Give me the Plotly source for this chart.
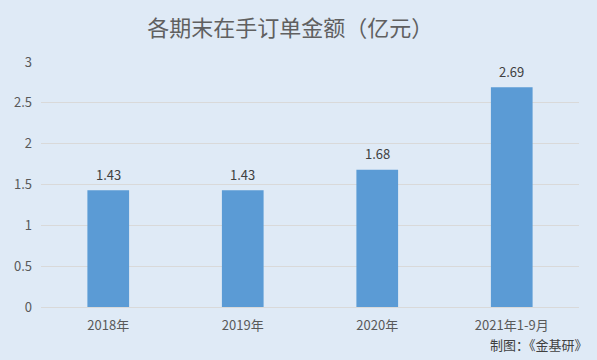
import plotly.graph_objects as go

categories = ["2018年", "2019年", "2020年", "2021年1-9月"]
values = [1.43, 1.43, 1.68, 2.69]
labels = ["1.43", "1.43", "1.68", "2.69"]
y_ticks = [0, 0.5, 1, 1.5, 2, 2.5, 3]
y_tick_text = ["0", "0.5", "1", "1.5", "2", "2.5", "3"]

BG = "#dfeaf6"
FONT = "Noto Sans CJK SC, Microsoft YaHei, sans-serif"

fig = go.Figure()
fig.add_trace(go.Bar(
    x=categories, y=values,
    marker=dict(color="#5b9bd5", line=dict(width=0)),
    hoverinfo="x+y",
))

annotations = [
    dict(x=c, y=v, text=t, xref="x", yref="y", showarrow=False,
         yanchor="middle", yshift=16,
         font=dict(size=13, color="#404040", family=FONT))
    for c, v, t in zip(categories, values, labels)
]
annotations.append(dict(text="制图：《金基研》", xref="paper", yref="paper",
                        x=1.02, y=-0.155, xanchor="right", yanchor="middle",
                        showarrow=False,
                        font=dict(size=13, color="#404040", family=FONT)))

fig.update_layout(
    width=597, height=360,
    paper_bgcolor=BG, plot_bgcolor=BG,
    margin=dict(l=41, r=18, t=62, b=53),
    bargap=0.69,
    showlegend=False,
    font=dict(family=FONT, color="#595959", size=13),
    title=dict(text="各期末在手订单金额（亿元）", x=0.486, xanchor="center",
               y=0.922, yanchor="middle",
               font=dict(size=22, color="#606060", family=FONT)),
    xaxis=dict(showgrid=False, showline=True, linecolor="#d9d9d9", linewidth=1,
               ticks="", ticklabelstandoff=6,
               tickfont=dict(size=13, color="#595959")),
    yaxis=dict(range=[0, 3], tickvals=y_ticks, ticktext=y_tick_text,
               showgrid=True, gridcolor="#d9d9d9", gridwidth=1,
               zeroline=False, showline=False, ticks="",
               ticklabelstandoff=8,
               tickfont=dict(size=13, color="#595959")),
    annotations=annotations,
)

fig.write_html("out.html")
